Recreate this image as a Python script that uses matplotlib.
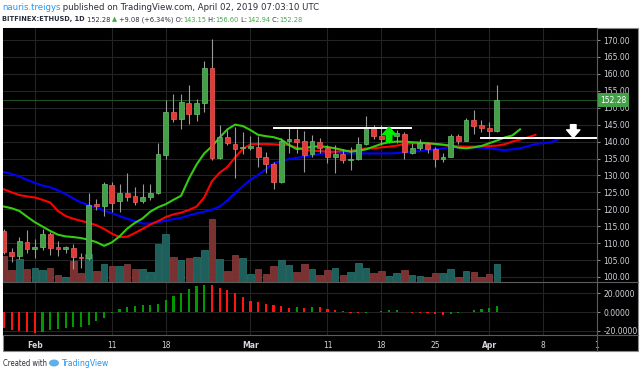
import numpy as np
import pandas as pd
import matplotlib
matplotlib.use("Agg")
import matplotlib.pyplot as plt
import matplotlib.dates as mdates
import matplotlib.transforms as mtransforms
from matplotlib.patches import Rectangle, Ellipse
from matplotlib.lines import Line2D

# ETHUSD daily candles (Bitfinex)
start = "2019-01-28"
opens = [113.6, 107.5, 106.2, 110.4, 108.4, 109.0, 112.6, 108.7, 108.4, 108.7,
         106.0, 105.6, 121.3, 121.0, 127.3, 122.5, 124.9, 123.9, 122.5, 123.7,
         124.7, 136.0, 148.8, 146.6, 151.3, 148.2, 151.3, 161.7, 135.2, 141.3,
         139.4, 138.1, 138.2, 138.5, 135.5, 133.3, 128.2, 140.3, 140.7, 140.2,
         136.2, 140.0, 138.0, 135.5, 136.2, 134.6, 134.8, 139.2, 143.9, 141.6,
         140.7, 141.6, 142.2, 136.7, 138.0, 139.2, 137.7, 135.0, 135.5, 141.6,
         140.2, 146.4, 144.9, 143.9, 143.15]
highs = [114.2, 108.6, 111.9, 113.9, 111.1, 114.1, 113.4, 110.6, 109.2, 109.7,
         107.2, 124.9, 123.0, 128.2, 128.2, 127.4, 130.6, 126.5, 127.5, 127.5,
         139.5, 152.3, 154.1, 154.1, 156.7, 152.5, 163.9, 170.2, 144.9, 143.4,
         144.4, 142.9, 141.5, 141.6, 137.0, 134.1, 141.0, 143.9, 143.8, 143.2,
         141.9, 141.0, 139.0, 139.0, 137.7, 138.5, 141.3, 147.6, 144.9, 144.9,
         143.0, 143.5, 142.9, 139.5, 140.7, 139.8, 138.5, 136.5, 142.2, 142.2,
         146.9, 149.3, 146.4, 145.7, 156.60]
lows = [106.8, 104.4, 105.3, 107.0, 105.5, 108.0, 106.5, 106.2, 107.0, 102.5,
        102.6, 105.0, 119.8, 118.0, 119.3, 119.3, 122.5, 121.3, 121.8, 122.8,
        124.6, 135.0, 145.9, 143.7, 145.2, 146.2, 148.8, 134.6, 135.0, 139.0,
        129.2, 136.3, 137.6, 132.6, 130.6, 125.9, 127.9, 136.5, 136.7, 131.1,
        135.5, 136.5, 133.8, 130.8, 133.8, 131.6, 134.7, 139.1, 140.7, 139.0,
        139.5, 139.5, 135.0, 136.2, 137.6, 136.7, 132.6, 134.1, 135.3, 139.2,
        140.1, 142.2, 142.7, 141.4, 142.94]
closes = [107.4, 106.2, 110.6, 108.3, 108.9, 112.7, 108.7, 108.4, 108.7, 105.8,
          105.7, 121.3, 121.1, 127.5, 122.0, 124.9, 123.7, 122.2, 123.7, 124.9,
          136.2, 148.8, 146.6, 151.8, 148.2, 151.5, 161.7, 135.2, 141.3, 139.5,
          137.7, 138.4, 138.5, 135.5, 133.3, 128.2, 140.2, 140.7, 140.0, 136.0,
          140.2, 138.0, 135.5, 136.2, 134.6, 134.9, 139.2, 143.9, 141.6, 140.7,
          141.8, 142.4, 137.0, 138.0, 139.5, 137.7, 135.0, 135.3, 141.6, 140.2,
          146.4, 144.7, 143.9, 143.2, 152.28]
volume = [26, 12, 23, 13, 14, 11.5, 14, 7, 5, 20.5,
          9, 28, 10.5, 18, 15.5, 16, 18, 13, 13, 9.5,
          38, 48, 25, 22, 24, 25, 32, 63, 23, 10.5,
          26.5, 23.5, 8, 13, 8, 15.5, 21.5, 17, 10, 18,
          13, 7, 12, 14, 7, 10, 19, 14, 8.5, 11,
          6, 8.5, 12, 7, 6, 4.5, 9, 9, 13, 4.5,
          11, 10, 4.5, 7.5, 18]

# Alligator lines (already shifted forward: jaw 8, teeth 5, lips 3 days)
jaw = [131.0, 130.4, 129.7, 128.7, 127.8, 127.0, 126.5, 125.6, 124.5, 123.2,
       122.0, 121.2, 120.5, 119.6, 118.9, 118.0, 117.2, 116.5, 115.8, 115.8,
       116.2, 116.6, 117.1, 117.5, 118.2, 118.8, 119.3, 119.9, 120.8, 122.6,
       124.8, 126.8, 128.7, 130.2, 131.8, 133.6, 134.3, 134.8, 135.2, 135.5,
       136.0, 136.3, 136.6, 136.7, 136.6, 136.5, 136.5, 136.5, 136.5, 136.5,
       136.5, 136.6, 136.8, 137.0, 137.2, 137.5, 137.7, 138.0, 138.3, 138.3,
       138.3, 138.3, 138.2, 138.0, 137.7, 137.5, 137.7, 138.0, 138.6, 139.3,
       139.5, 139.8, 140.7]
teeth = [125.9, 125.0, 124.2, 123.8, 123.5, 122.8, 122.0, 119.5, 118.0, 117.2,
         116.6, 116.0, 115.3, 114.2, 112.8, 111.8, 111.9, 113.0, 114.2, 115.5,
         116.5, 117.7, 118.5, 119.0, 119.8, 120.8, 123.5, 128.3, 130.8, 132.5,
         135.3, 137.8, 139.2, 139.3, 139.3, 139.2, 139.0, 139.0, 138.2, 137.6,
         137.3, 137.2, 137.0, 137.0, 137.2, 137.3, 137.6, 138.0, 138.0, 138.3,
         138.5, 138.8, 139.3, 139.5, 139.5, 139.5, 139.3, 139.0, 138.7, 138.6,
         138.5, 138.5, 138.6, 138.7, 138.8, 139.2, 140.0, 140.6, 141.2, 142.0]
lips = [120.8, 120.3, 119.5, 117.8, 116.2, 114.9, 113.6, 112.5, 112.0, 111.8,
        111.5, 111.0, 110.3, 109.2, 110.2, 112.0, 114.3, 116.0, 117.3, 119.3,
        120.6, 121.5, 122.8, 124.0, 129.0, 133.2, 136.5, 138.6, 141.2, 143.6,
        145.0, 144.6, 143.4, 142.0, 141.6, 141.3, 140.6, 139.0, 137.8, 138.0,
        138.5, 138.6, 138.4, 138.0, 137.5, 137.0, 137.3, 137.7, 138.5, 139.3,
        139.8, 140.0, 140.0, 139.8, 139.7, 139.5, 139.3, 139.1, 138.8, 138.2,
        138.0, 138.3, 138.7, 139.5, 140.3, 141.2, 141.8, 143.6]

# Awesome oscillator
ao = [-17.3, -19.0, -20.2, -21.4, -22.5, -21.0, -19.0, -17.9, -17.1, -16.2,
      -15.5, -13.5, -9.9, -5.8, -1.0, 3.6, 5.4, 6.8, 7.2, 7.5,
      8.8, 12.4, 16.7, 20.7, 24.3, 27.2, 29.0, 28.4, 25.8, 23.2,
      20.0, 16.0, 12.2, 11.1, 9.0, 7.4, 6.1, 4.7, 5.0, 4.6,
      5.6, 5.2, 3.6, 1.9, 1.0, -0.5, -1.0, -0.6, 0.5, 1.3,
      1.8, 1.9, 0.3, -0.7, -1.1, -1.2, -1.8, -2.9, -1.8, -1.1,
      0.1, 1.8, 3.6, 4.7, 6.1]
ao_before = -16.0

price_ticks = list(range(100, 171, 5))
osc_ticks = [-20, 0, 20]
time_ticks = ["2019-02-01", "2019-02-11", "2019-02-18", "2019-03-01", "2019-03-11",
              "2019-03-18", "2019-03-25", "2019-04-01", "2019-04-08", "2019-04-15"]
last_price = 152.28
range_top = ("2019-03-04 00:00", "2019-03-21 21:00", 143.9)
support = ("2019-03-31 00:00", "2019-04-15 00:00", 141.0)
up_arrow = ("2019-03-19", 139.9, 144.3)
down_arrow = ("2019-04-11 22:00", 145.0, 141.2)

W, H = 640, 374
GREEN, RED = "#43a047", "#e53935"
TXT = "#d1d4dc"
GRID = "#242424"

fig = plt.figure(figsize=(W / 100, H / 100), dpi=100, facecolor="white")


def px_box(x0, y0, x1, y1):
    return [x0 / W, 1 - y1 / H, (x1 - x0) / W, (y1 - y0) / H]


# black chart frame
fig.patches.append(Rectangle((3 / W, 1 - 351 / H), 635 / W, 323 / H,
                             transform=fig.transFigure, facecolor="black",
                             edgecolor="#8a8a8a", linewidth=0.8, zorder=-1))

dates = pd.date_range(start, periods=len(closes), freq="D")
x = mdates.date2num(dates)
o, h, l, c = map(np.array, (opens, highs, lows, closes))
up = c >= o

ax_v = fig.add_axes(px_box(3, 28, 597, 282))
ax = fig.add_axes(px_box(3, 28, 597, 282), sharex=ax_v)
ax_o = fig.add_axes(px_box(3, 282, 597, 335), sharex=ax_v)

xmin = mdates.date2num(pd.Timestamp(start)) - 0.13
xmax = mdates.date2num(pd.Timestamp("2019-04-15"))
pmin, pmax = 98.52, 173.55

# volume behind candles
ax_v.set_facecolor("black")
vtop = max(volume) * 4.03
ax_v.bar(x, volume, width=0.85, color=np.where(up, "#1e5f5b", "#7a3131"),
         edgecolor=np.where(up, "#2b7a74", "#934040"), linewidth=0.5, zorder=2)
ax_v.set_ylim(0, vtop)
ax_v.set_yticks([])
for s in ax_v.spines.values():
    s.set_visible(False)
ax_v.tick_params(axis="x", length=0, labelbottom=False)
for t in mdates.date2num(pd.to_datetime(time_ticks)):
    ax_v.axvline(t, color=GRID, lw=0.8, zorder=0)
for p in price_ticks:
    ax_v.axhline((p - pmin) / (pmax - pmin) * vtop, color=GRID, lw=0.8, zorder=0)

# candles
ax.patch.set_visible(False)
ax.vlines(x, l, h, color="#9a9a9a", lw=0.8, zorder=3)
body = np.maximum(np.abs(c - o), 0.35)
ax.bar(x, body, bottom=np.minimum(o, c), width=0.62,
       color=np.where(up, GREEN, RED), edgecolor=np.where(up, "#6cc070", "#f06060"),
       linewidth=0.5, zorder=4)

# alligator
line_dates = lambda v: mdates.date2num(pd.date_range(start, periods=len(v), freq="D"))
ax.plot(line_dates(jaw), jaw, color="#0000ff", lw=1.5, zorder=2)
ax.plot(line_dates(teeth), teeth, color="#ff0000", lw=1.5, zorder=2)
ax.plot(line_dates(lips), lips, color="#33cc11", lw=1.5, zorder=2)

# drawings
ax.axhline(last_price, color="#1f4f1f", lw=0.8, zorder=1)
for a, b, p in (range_top, support):
    ax.plot(mdates.date2num(pd.to_datetime([a, b])), [p, p], color="white", lw=1.4, zorder=5)
for (d, y0, y1), col in ((up_arrow, "#00ee00"), (down_arrow, "white")):
    xd = mdates.date2num(pd.Timestamp(d))
    ax.annotate("", xy=(xd, y1), xytext=(xd, y0), zorder=6,
                arrowprops=dict(arrowstyle="simple,head_length=0.55,head_width=0.95,tail_width=0.4",
                                color=col, mutation_scale=10, shrinkA=0, shrinkB=0))

ax.set_xlim(xmin, xmax)
ax.set_ylim(pmin, pmax)
ax.yaxis.tick_right()
ax.set_yticks(price_ticks)
ax.set_yticklabels([f"{p:.2f}" for p in price_ticks])
ax.tick_params(axis="y", colors="#8a8a8a", labelcolor=TXT, labelsize=5.5, length=2.5, pad=2)
ax.tick_params(axis="x", length=0, labelbottom=False)
for s in ax.spines.values():
    s.set_visible(False)

tr = mtransforms.blended_transform_factory(ax.transAxes, ax.transData)
ax.text(1.0 + 3.5 / 594, last_price, f"{last_price:.2f}", transform=tr, color="white",
        fontsize=5.5, va="center", ha="left", zorder=7,
        bbox=dict(boxstyle="square,pad=0.3", fc="#43a047", ec="none"))

# awesome oscillator
ax_o.set_facecolor("black")
prev = np.concatenate([[ao_before], ao[:-1]])
ao_col = np.where(np.array(ao) >= prev, "#009900", "#ff1414")
ax_o.bar(x, ao, width=0.28, color=ao_col, zorder=3)
ax_o.set_ylim(-24.3, 31.9)
ax_o.yaxis.tick_right()
ax_o.set_yticks(osc_ticks)
ax_o.set_yticklabels([f"{v:.4f}" for v in osc_ticks])
ax_o.grid(True, color=GRID, lw=0.8)
ax_o.set_axisbelow(True)
tick_pos = mdates.date2num(pd.to_datetime(time_ticks))
ax_o.set_xticks(tick_pos)
labels = []
for d in pd.to_datetime(time_ticks):
    labels.append(d.strftime("%b") if d.day == 1 else str(d.day))
labels[-1] = "1"
ax_o.set_xticklabels(labels)
for lab, d in zip(ax_o.get_xticklabels(), pd.to_datetime(time_ticks)):
    if d.day == 1:
        lab.set_fontweight("bold")
ax_o.tick_params(axis="x", length=0, pad=4, labelsize=5.5, labelcolor=TXT)
ax_o.tick_params(axis="y", colors="#8a8a8a", labelcolor=TXT, labelsize=5.5, length=2.5, pad=2)
for s in ax_o.spines.values():
    s.set_visible(False)
ax_o.set_xlim(xmin, xmax)

# separators
for seg in (((3, 638), (282, 282)), ((3, 638), (335, 335)), ((597, 597), (28, 351))):
    fig.add_artist(Line2D([v / W for v in seg[0]], [1 - v / H for v in seg[1]],
                          color="#5c5c5c", lw=0.8))

# header and footer
r = fig.canvas.get_renderer()


def text_run(x0, y0, pieces, size, x_end=None):
    # lay pieces side by side; optionally rescale the font so the run ends at x_end
    kw = dict(fontstretch="condensed")
    if x_end is not None:
        w = 0
        for s, col, wt in pieces:
            t = fig.text(0, 0, s.replace(" ", "\u00a0"), fontsize=size, fontweight=wt, **kw)
            w += t.get_window_extent(renderer=r).width
            t.remove()
        size = size * (x_end - x0) / w
    xx = x0
    for s, col, wt in pieces:
        t = fig.text(xx / W, 1 - y0 / H, s.replace(" ", "\u00a0"), color=col, fontsize=size,
                     fontweight=wt, va="center", ha="left", **kw)
        xx += t.get_window_extent(renderer=r).width
    return xx


DK = "#2a2e39"
G2 = "#3fae49"
text_run(2, 7.5, [("nauris.treigys", "#2196f3", "normal"),
                  (" published on TradingView.com, April 02, 2019 07:03:10 UTC", DK, "normal")],
         6, x_end=318)
text_run(2, 19.5, [("BITFINEX:ETHUSD, 1D", DK, "bold"), (" 152.28 ", DK, "normal"),
                   ("\u25b2", G2, "normal"), (" +9.08 (+6.34%) O:", DK, "normal"),
                   ("143.15", G2, "normal"), (" H:", DK, "normal"), ("156.60", G2, "normal"),
                   (" L:", DK, "normal"), ("142.94", G2, "normal"), (" C:", DK, "normal"),
                   ("152.28", G2, "normal")], 6, x_end=304)
xe = text_run(3, 363, [("Created with", DK, "normal")], 6, x_end=47)
fig.patches.append(Ellipse(((xe + 7) / W, 1 - 363 / H), 10 / W, 7 / H,
                           transform=fig.transFigure, facecolor="#5fb0e8", edgecolor="none"))
text_run(xe + 14, 363, [("TradingView", "#2196f3", "normal")], 6, x_end=108)

fig.savefig("out.png", dpi=100, facecolor="white")
